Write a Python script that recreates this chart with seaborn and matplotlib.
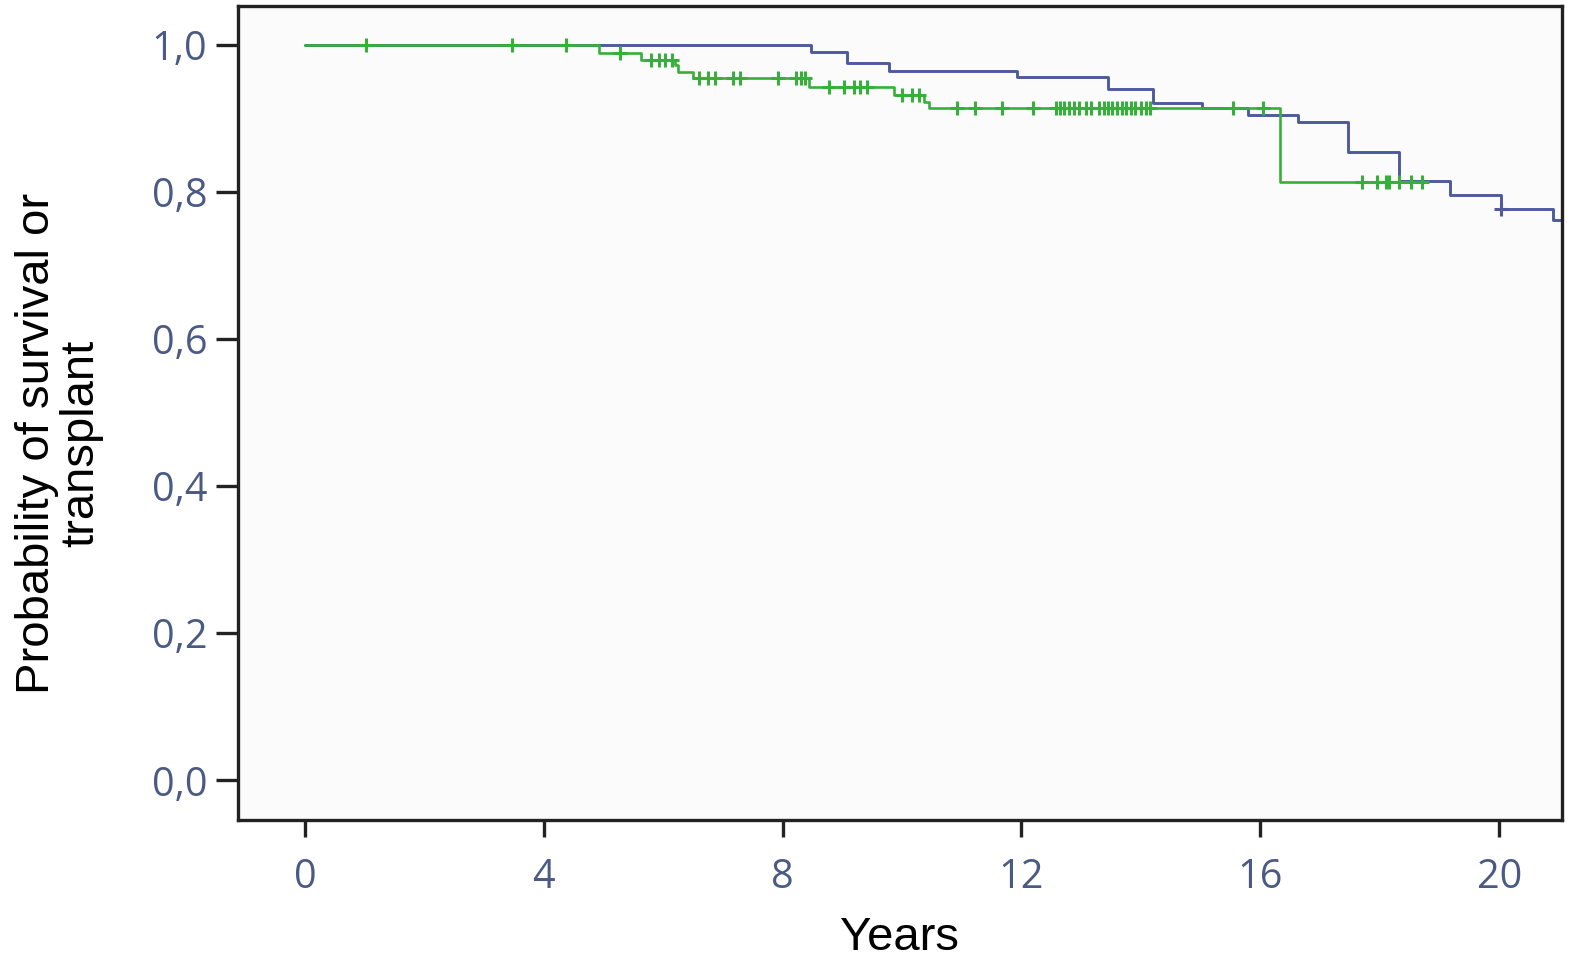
import matplotlib
matplotlib.use("Agg")
import matplotlib.pyplot as plt
import numpy as np
import pandas as pd
import seaborn as sns

# --- Kaplan-Meier steps ---
blue_times = [0, 8.47, 9.08, 9.78, 11.92, 13.45, 14.2, 15.03, 15.8, 16.63, 17.47, 18.33, 19.17, 20.03, 20.9, 21.3]
blue_surv = [1.0, 0.990, 0.976, 0.964, 0.956, 0.940, 0.921, 0.914, 0.905, 0.895, 0.854, 0.815, 0.796, 0.777, 0.762, 0.762]
blue_censor = [20.03]

green_times = [0, 4.92, 5.63, 6.2, 6.25, 6.5, 8.45, 9.87, 10.37, 10.45, 16.33, 18.78]
green_surv = [1.0, 0.989, 0.980, 0.973, 0.963, 0.955, 0.943, 0.932, 0.922, 0.914, 0.814, 0.814]
green_censor = [1.03, 3.47, 4.37, 5.28, 5.8, 5.93, 6.03, 6.15, 6.6, 6.75, 6.87, 7.17, 7.28,
                7.92, 8.22, 8.3, 8.38, 8.78, 9.03, 9.2, 9.3, 9.42, 10.0, 10.17, 10.28,
                10.92, 11.22, 11.67, 12.2, 12.58, 12.65, 12.72, 12.8, 12.88, 12.97, 13.08,
                13.17, 13.3, 13.38, 13.45, 13.52, 13.6, 13.68, 13.75, 13.83, 13.9, 14.0,
                14.08, 14.15, 15.55, 16.05, 17.7, 17.95, 18.1, 18.15, 18.33, 18.53, 18.7]

x_ticks = [0, 4, 8, 12, 16, 20]
y_ticks = [0.0, 0.2, 0.4, 0.6, 0.8, 1.0]
y_tick_labels = ["0,0", "0,2", "0,4", "0,6", "0,8", "1,0"]

BLUE = "#4e5a9c"
GREEN = "#36b03a"
TICK_COLOR = "#4a5a85"


def censor_frame(times, surv, censor):
    idx = np.searchsorted(times, censor, side="right") - 1
    return pd.DataFrame({"t": censor, "s": np.asarray(surv)[idx]})


sns.set_theme(style="white")
plt.rcParams["font.family"] = ["Liberation Sans", "DejaVu Sans"]

fig = plt.figure(figsize=(15.75, 9.63), dpi=100)
ax = fig.add_axes([0.1511, 0.1485, 0.8406, 0.8453])
ax.set_facecolor("#fbfbfb")

df_blue = pd.DataFrame({"t": blue_times, "s": blue_surv})
df_green = pd.DataFrame({"t": green_times, "s": green_surv})

sns.lineplot(data=df_blue, x="t", y="s", estimator=None, sort=False,
             drawstyle="steps-post", color=BLUE, linewidth=2.1, ax=ax)
sns.lineplot(data=df_green, x="t", y="s", estimator=None, sort=False,
             drawstyle="steps-post", color=GREEN, linewidth=1.9, ax=ax)

sns.scatterplot(data=censor_frame(green_times, green_surv, green_censor), x="t", y="s",
                marker="+", s=110, linewidth=2.2, color=GREEN, ax=ax, zorder=3)
sns.scatterplot(data=censor_frame(blue_times, blue_surv, blue_censor), x="t", y="s",
                marker="+", s=110, linewidth=2.2, color=BLUE, ax=ax, zorder=3)

ax.set_xlim(-1.12, 21.05)
ax.set_ylim(-0.054, 1.053)
ax.set_xticks(x_ticks)
ax.set_xticklabels([str(v) for v in x_ticks])
ax.set_yticks(y_ticks)
ax.set_yticklabels(y_tick_labels)

for lab in ax.get_xticklabels() + ax.get_yticklabels():
    lab.set_fontfamily("Open Sans")
    lab.set_fontsize(28.5)
    lab.set_color(TICK_COLOR)

ax.tick_params(axis="x", direction="out", length=12, width=2.4, color="#222222", pad=15, bottom=True)
ax.tick_params(axis="y", direction="out", length=16, width=2.4, color="#222222", pad=6, left=True)

for sp in ax.spines.values():
    sp.set_visible(True)
    sp.set_color("#222222")
    sp.set_linewidth(2.4)

ax.set_xlabel("Years", fontsize=34, color="black", labelpad=13)
ax.set_ylabel("Probability of survival or\ntransplant", fontsize=34, color="black",
              linespacing=1.0)
ax.yaxis.set_label_coords(-0.102, 0.463)

fig.savefig("out.png", dpi=100)
plt.close(fig)
